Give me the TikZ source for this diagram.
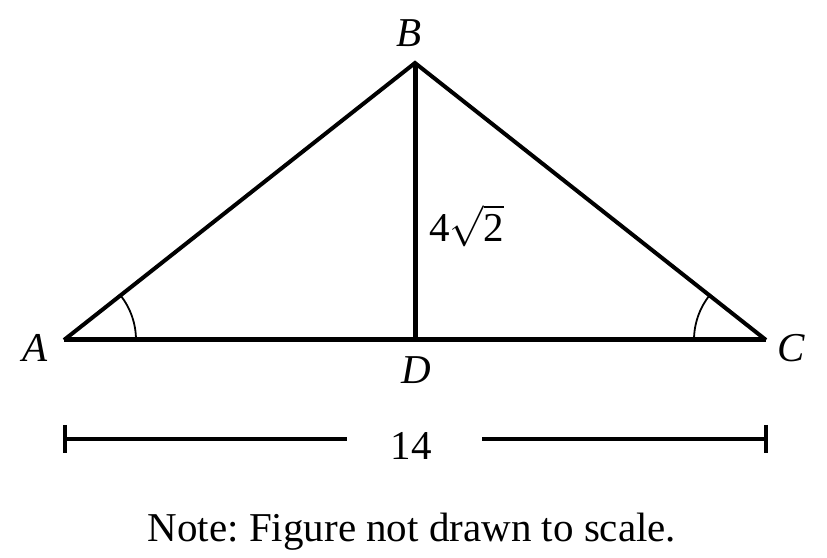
\documentclass[tikz,border=0pt]{standalone}
\usepackage{fontspec}
\usepackage{unicode-math}
\setmainfont{Liberation Serif}
\setmathfont{Latin Modern Math}
\frenchspacing
\usetikzlibrary{angles}
\begin{document}
\begin{tikzpicture}[x=1pt,y=1pt,
  side/.style={line width=4pt,line join=miter},
  alt/.style={line width=5pt},
  dim/.style={line width=3.2pt},
  anglearc/.style={draw,line width=1.8pt,angle radius=72pt},
  lbl/.style={inner sep=0pt,font=\fontsize{41}{49}\selectfont\itshape},
  txt/.style={inner sep=0pt,font=\fontsize{41}{49}\selectfont}]
\useasboundingbox (0,0) rectangle (827,557);
\coordinate (A) at (64,217);
\coordinate (B) at (415,494);
\coordinate (C) at (766,217);
\coordinate (D) at (415,217);
\draw[side] (A) -- (B) -- (C);
\draw[alt] (A) -- (C);
\draw[alt] (B) -- (D);
\pic[anglearc] {angle = D--A--B};
\pic[anglearc] {angle = B--C--D};
\node[lbl,anchor=base] (la) at (35,195) {A};
\node[lbl,anchor=base] (lb) at (409,510) {B};
\node[lbl,anchor=base] (lc) at (791,195) {C};
\node[lbl,anchor=base] (ld) at (416,173) {D};
\node[txt,anchor=base west] (h) at (429,315) {4$\sqrt{\mbox{2}}$};
\coordinate (L1) at (65,132);
\coordinate (L2) at (65,104);
\coordinate (R1) at (766,132);
\coordinate (R2) at (766,104);
\coordinate (Lm) at (65,118);
\coordinate (Rm) at (766,118);
\coordinate (Le) at (347,118);
\coordinate (Rs) at (482,118);
\draw[dim] (L1) -- (L2);
\draw[dim] (R1) -- (R2);
\draw[dim] (Lm) -- (Le);
\draw[dim] (Rs) -- (Rm);
\node[txt,anchor=base] (len) at (411,97) {14};
\node[txt,anchor=base] (note) at (412,16) {Note: Figure not drawn to scale.};
\end{tikzpicture}
\end{document}
